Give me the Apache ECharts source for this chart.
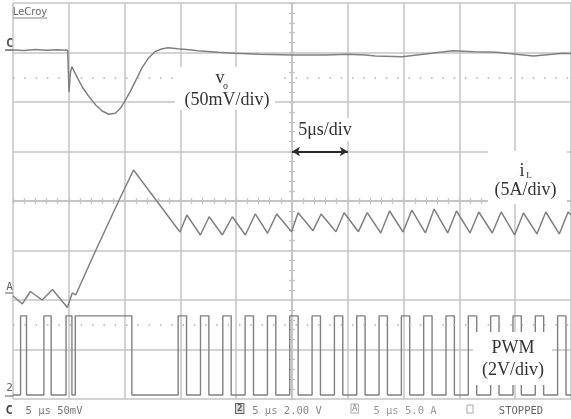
<!DOCTYPE html>
<html><head><meta charset="utf-8">
<script src="https://cdn.jsdelivr.net/npm/echarts@6/dist/echarts.min.js"></script>
<style>html,body{margin:0;padding:0;background:#fff}#c{width:571px;height:419px}</style>
</head><body><div id="c"></div>
<script>
// Time base: 5 us/div, trigger at screen centre (t = 0)
const timeMin = -25, timeMax = 25, timeDiv = 5;
// Vertical divisions (8 div, centre = 0)
const divMin = -4, divMax = 4;

// Channel C : output voltage deviation v_o (mV), 50 mV/div
const voTime = [-25.0,-24.0,-23.0,-22.0,-21.0,-20.1,-20.0,-19.98,-19.85,-19.72,-19.36,-18.78,-18.19,-17.59,-17.01,-16.42,-15.82,-15.38,-15.0,-14.5,-14.05,-13.47,-12.88,-12.29,-11.7,-11.11,-10.22,-9.0,-8.45,-6.6,-5.09,-2.9,0.04,3.0,5.0,6.59,7.48,9.87,12.52,14.38,16.33,18.36,19.87,21.64,24.29,25.0];
const voMv   = [2.5,2.0,3.0,2.2,2.8,2.2,2.5,-40,-20,-14.3,-22.7,-35.1,-44.6,-53.0,-59.1,-62.4,-61.4,-56.4,-49.7,-39.6,-29.5,-16.0,-5.9,0.8,3.5,4.8,3.8,2.6,1.8,0.2,-0.8,-1.8,-2.5,-2.5,-1.8,-2.5,-3.5,-4.2,-0.8,1.8,0.8,0.2,-1.5,-3.5,-0.8,-1.0];

// Channel A : inductor current i_L (A), 5 A/div
const iLTime = [-25.0,-24.16,-23.45,-22.39,-21.46,-20.13,-19.69,-19.38,-18.78,-17.57,-15.53,-14.2,-10.04,-9.42,-8.21,-7.42,-6.24,-5.35,-4.18,-3.29,-2.19,-1.37,-0.04,0.55,1.88,2.61,3.94,4.67,5.95,6.74,7.95,8.74,9.95,10.74,11.95,12.74,13.95,14.74,15.95,16.74,17.95,18.74,19.95,20.74,21.95,22.74,23.95,24.74,25.0];
const iLAmp  = [0.40,-0.40,0.86,0.0,1.06,-0.76,0.71,0.51,2.02,5.05,10.0,13.13,6.87,8.59,6.57,8.41,6.57,8.41,6.57,8.69,6.74,8.69,6.9,8.82,7.0,8.69,6.9,8.82,6.9,8.82,6.77,8.99,6.87,9.09,6.77,9.19,6.77,8.99,6.77,8.89,6.77,8.89,6.57,8.79,6.67,8.89,6.67,8.89,8.6];

// Channel 2 : PWM gate signal (V), 2 V/div
const pwmRise = [-24.32,-22.23,-20.25,-19.42,-10.2,-8.2,-6.2,-4.2,-2.2,-0.2,1.8,3.8,5.8,7.8,9.8,11.8,13.8,15.8,17.8,19.8,21.8,23.8];
const pwmFall = [-23.79,-21.58,-19.72,-14.35,-9.45,-7.45,-5.45,-3.45,-1.45,0.55,2.55,4.55,6.55,8.55,10.55,12.55,14.55,16.55,18.55,20.55,22.55,24.55];
const pwmHigh = 3.2, pwmLow = 0;

const gridColor = '#c4c4c4';
const traceColor = '#808080';

const voData = voTime.map((t, i) => [t, voMv[i]]);
const iLData = iLTime.map((t, i) => [t, iLAmp[i]]);
const pwmData = [[timeMin, pwmLow]];
pwmRise.forEach((r, i) => {
  pwmData.push([r, pwmLow], [r, pwmHigh], [pwmFall[i], pwmHigh], [pwmFall[i], pwmLow]);
});
pwmData.push([timeMax, pwmLow]);

function divX(inside, split) {
  return {
    type: 'value', min: timeMin, max: timeMax, interval: timeDiv, position: 'bottom',
    axisLine: { show: true, onZero: true, onZeroAxisIndex: 0, lineStyle: { color: gridColor, width: 1.5 } },
    axisTick: { show: true, inside: inside, length: 3, lineStyle: { color: gridColor, width: 1.3 } },
    minorTick: { show: true, splitNumber: 5, length: 3, lineStyle: { color: gridColor, width: 1.3 } },
    axisLabel: { show: false },
    splitLine: { show: split, lineStyle: { color: gridColor, width: 1.5 } }
  };
}
function divY(inside, split) {
  return {
    type: 'value', min: divMin, max: divMax, interval: 1, position: 'left',
    axisLine: { show: true, onZero: true, onZeroAxisIndex: 0, lineStyle: { color: gridColor, width: 1.5 } },
    axisTick: { show: true, inside: inside, length: 3, lineStyle: { color: gridColor, width: 1.3 } },
    minorTick: { show: true, splitNumber: 5, length: 3, lineStyle: { color: gridColor, width: 1.3 } },
    axisLabel: { show: false },
    splitLine: { show: split, lineStyle: { color: gridColor, width: 1.5 } }
  };
}

const serif = '"Liberation Serif", "DejaVu Serif", serif';
const mono = '"DejaVu Sans Mono", monospace';
function txt(text, x, y, size, font, color, extra) {
  return Object.assign({ type: 'text', x: x, y: y, z: 200,
    style: { text: text, font: size + 'px ' + font, fill: color || '#333', align: 'center', verticalAlign: 'middle' } }, extra || {});
}
function box(x, y, w, h) {
  return { type: 'rect', z: 150, shape: { x: x, y: y, width: w, height: h }, style: { fill: '#fff' } };
}
function ln(x1, y1, x2, y2, c, w) {
  return { type: 'line', z: 200, shape: { x1: x1, y1: y1, x2: x2, y2: y2 }, style: { stroke: c, lineWidth: w || 1 } };
}

const chart = echarts.init(document.getElementById('c'), null, { renderer: 'canvas' });
chart.setOption({
  animation: false,
  backgroundColor: '#fff',
  grid: { left: 13, top: 3, width: 565, height: 396, show: false },
  xAxis: [divX(true, true), divX(false, false)],
  yAxis: [divY(false, true), divY(true, false),
    { type: 'value', show: false, min: -350, max: 50 },
    { type: 'value', show: false, min: -10, max: 30 },
    { type: 'value', show: false, min: -0.16, max: 15.84 }],
  series: [
    { name: 'deco', type: 'line', xAxisIndex: 0, yAxisIndex: 0, data: [], silent: true,
      markLine: { silent: true, symbol: 'none', label: { show: false },
        lineStyle: { color: '#b0b0b0', width: 1.5, type: [1.5, 9.8] },
        data: [
          [{ coord: [timeMin, 2.5] }, { coord: [timeMax, 2.5] }],
          [{ coord: [timeMin, -2.5] }, { coord: [timeMax, -2.5] }]
        ] } },
    { name: 'arrow', type: 'line', xAxisIndex: 0, yAxisIndex: 0, data: [], silent: true, z: 5,
      markLine: { silent: true, symbol: ['arrow', 'arrow'], symbolSize: [7, 8], label: { show: false },
        lineStyle: { color: '#2a2a2a', width: 2, type: 'solid' },
        data: [[{ coord: [0, 1] }, { coord: [timeDiv, 1] }]] } },
    { name: 'vo', type: 'line', xAxisIndex: 0, yAxisIndex: 2, data: voData, showSymbol: false,
      lineStyle: { color: traceColor, width: 1.5 } },
    { name: 'iL', type: 'line', xAxisIndex: 0, yAxisIndex: 3, data: iLData, showSymbol: false,
      lineStyle: { color: traceColor, width: 1.5 } },
    { name: 'PWM', type: 'line', xAxisIndex: 0, yAxisIndex: 4, data: pwmData, showSymbol: false,
      lineStyle: { color: traceColor, width: 1.4 } }
  ],
  graphic: [
    box(175, 67, 100, 43),
    box(298, 118, 58, 23),
    box(488, 151, 79, 53),
    box(473, 332, 79, 53),
    txt('v', 220, 78, 18, serif),
    txt('o', 225.5, 86, 10, serif),
    txt('(50mV/div)', 227, 100, 18, serif),
    txt('5μs/div', 325, 130, 18, serif),
    txt('i', 522, 171, 18, serif),
    txt('L', 529, 176, 9, serif),
    txt('(5A/div)', 525.5, 190, 18, serif),
    txt('PWM', 513, 348, 18, serif),
    txt('(2V/div)', 513, 370, 18, serif),
    txt('LeCroy', 30, 12, 10, '"DejaVu Sans", sans-serif', '#6a6a6a'),
    ln(13, 18, 47, 18, '#8a8a8a', 1),
    txt('C', 9.5, 44, 12, mono, '#555', { style: { text: 'C', font: 'bold 12px ' + mono, fill: '#555', align: 'center', verticalAlign: 'middle' } }),
    ln(5, 50, 13, 50, '#666', 1.5),
    txt('A', 9.5, 287, 11, mono, '#666'),
    ln(5, 293, 13, 293, '#777', 1.2),
    txt('2', 9.5, 388, 11, mono, '#666'),
    ln(5, 396, 13, 396, '#777', 1.2),
    txt('C', 9, 411, 12, mono, '#444', { style: { text: 'C', font: 'bold 12px ' + mono, fill: '#444', align: 'center', verticalAlign: 'middle' } }),
    txt('5 μs 50mV', 54, 411, 10.5, mono, '#777'),
    { type: 'text', x: 236, y: 404, z: 200, style: { text: '2', font: 'bold 9px ' + mono, fill: '#555', borderColor: '#666', borderWidth: 1, padding: [0, 1, 0, 1], backgroundColor: '#ddd' } },
    txt('5 μs 2.00 V', 287, 411, 10.5, mono, '#888'),
    { type: 'text', x: 351, y: 404, z: 200, style: { text: 'A', font: '9px ' + mono, fill: '#888', borderColor: '#aaa', borderWidth: 1, padding: [0, 1, 0, 1] } },
    txt('5 μs 5.0 A', 405, 411, 10.5, mono, '#999'),
    { type: 'rect', z: 200, shape: { x: 467, y: 405, width: 6, height: 8 }, style: { fill: 'none', stroke: '#aaa', lineWidth: 1 } },
    txt('STOPPED', 521, 411, 10.5, mono, '#666')
  ]
});
</script></body></html>
